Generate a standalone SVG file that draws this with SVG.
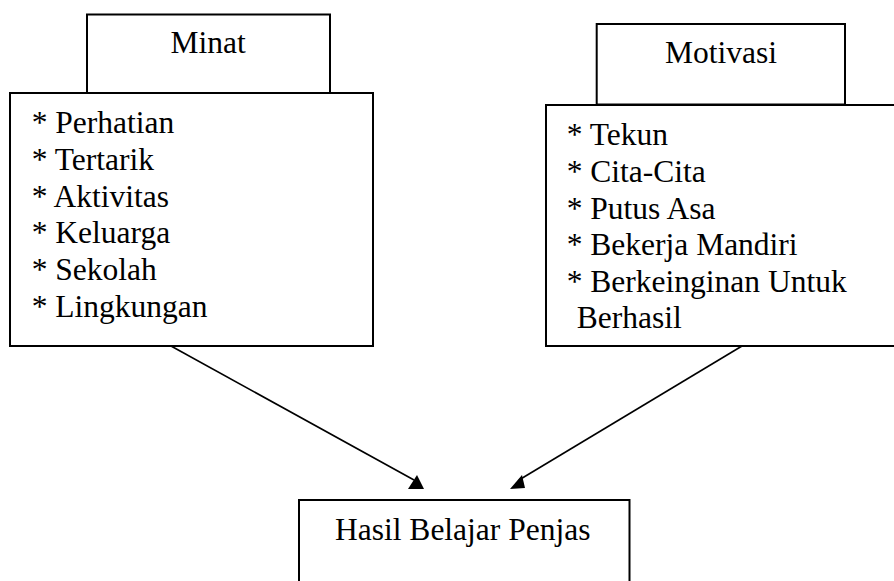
<svg xmlns="http://www.w3.org/2000/svg" width="894" height="581" viewBox="0 0 894 581">
<style>
.box{fill:#fff;stroke:#000;stroke-width:2}
text,tspan{font-family:"Liberation Serif","Times New Roman",serif;font-size:31.5px;fill:#000}
.conn{stroke:#000;stroke-width:1.6;fill:none}
.head{fill:#000;stroke:none}
</style>
<rect width="894" height="581" fill="#fff"/>
<g id="minat">
<rect class="box" x="87" y="14.5" width="243" height="78.5"/>
<text x="170.5" y="53.3">Minat</text>
</g>
<g id="minat-list">
<rect class="box" x="10" y="93" width="363" height="253"/>
<text x="31.7" y="133.3">* Perhatian</text>
<text x="31.7" y="170">* Tertarik</text>
<text x="31.7" y="206.7">* Aktivitas</text>
<text x="31.7" y="243.3">* Keluarga</text>
<text x="31.7" y="280">* Sekolah</text>
<text x="31.7" y="316.7">* Lingkungan</text>
</g>
<g id="motivasi">
<rect class="box" x="596.7" y="24" width="248.3" height="80.5"/>
<text x="665" y="63">Motivasi</text>
</g>
<g id="motivasi-list">
<rect class="box" x="546" y="105" width="360" height="241"/>
<text x="566.7" y="145">* Tekun</text>
<text x="566.7" y="182">* Cita-Cita</text>
<text x="566.7" y="218.5">* Putus Asa</text>
<text x="566.7" y="255">* Bekerja Mandiri</text>
<text x="566.7" y="291.7">* Berkeinginan Untuk</text>
<text x="576.7" y="328.3">Berhasil</text>
</g>
<g id="hasil">
<rect class="box" x="299" y="500" width="330.5" height="100"/>
<text x="335" y="540">Hasil Belajar Penjas</text>
</g>
<g id="connectors">
<line class="conn" x1="171" y1="346" x2="414" y2="480"/>
<polygon class="head" points="417,475 408,489 424,489"/>
<line class="conn" x1="742" y1="346" x2="519" y2="480"/>
<polygon class="head" points="522,475 510,489 525,488"/>
</g>
</svg>
